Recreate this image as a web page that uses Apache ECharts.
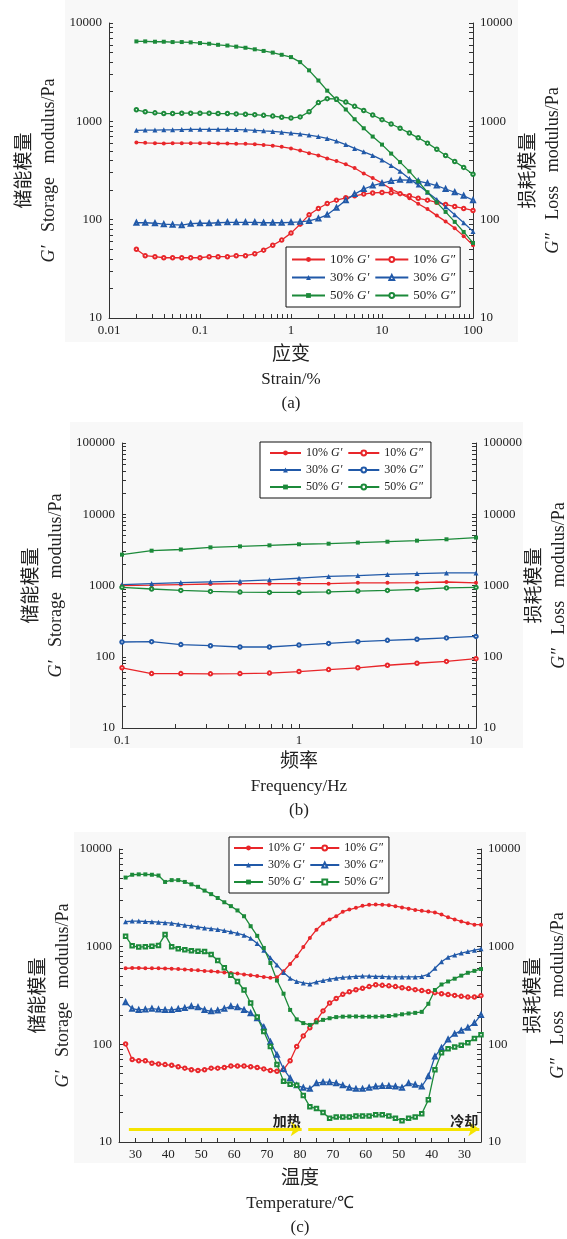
<!DOCTYPE html>
<html>
<head>
<meta charset="utf-8">
<title>储能模量 / 损耗模量</title>
<script src="https://cdn.jsdelivr.net/npm/echarts@6.0.0/dist/echarts.min.js"></script>
<style>
    html, body { margin: 0; padding: 0; background: #fff; }
    #main { width: 567px; height: 1239px; }
</style>
</head>
<body>
<div id="main"></div>
<script type="text/javascript">
    // ---- (a) strain sweep ----
    var strain = [0.02, 0.025, 0.032, 0.04, 0.05, 0.063, 0.079,
        0.1, 0.126, 0.158, 0.2, 0.25, 0.316, 0.4, 0.5, 0.63, 0.79,
        1, 1.26, 1.58, 2, 2.5, 3.16, 4, 5, 6.3, 7.9,
        10, 12.6, 15.8, 20, 25, 31.6, 40, 50, 63, 79, 100];
    var a10G1 = [610, 605, 600, 595, 600, 600, 600, 600, 600, 595, 595, 590, 590, 585, 575, 565, 550,
        530, 505, 475, 450, 420, 395, 365, 335, 295, 265, 235, 205, 185, 165, 145, 128, 110, 96, 82, 68, 55];
    var a10G2 = [50, 43, 42, 41, 41, 41, 41, 41, 42, 42, 42, 43, 43, 45, 49, 55, 62,
        73, 90, 112, 130, 146, 158, 167, 175, 182, 187, 189, 188, 184, 175, 165, 158, 150, 143, 136, 130, 124];
    var a30G1 = [810, 815, 815, 820, 820, 825, 830, 830, 830, 830, 830, 825, 820, 810, 800, 790, 775,
        760, 745, 725, 700, 670, 630, 580, 530, 490, 450, 405, 355, 310, 260, 225, 190, 160, 135, 112, 93, 76];
    var a30G2 = [93, 93, 92, 90, 89, 88, 91, 92, 92, 93, 94, 94, 94, 94, 93, 93, 93,
        94, 95, 97, 103, 112, 132, 158, 182, 205, 222, 235, 248, 254, 252, 246, 235, 222, 205, 190, 175, 158];
    var a50G1 = [6500, 6500, 6450, 6450, 6400, 6400, 6350, 6250, 6150, 6000, 5900, 5750, 5600, 5400, 5200, 5000, 4750,
        4500, 4000, 3300, 2600, 2050, 1650, 1320, 1050, 850, 700, 580, 470, 385, 310, 245, 190, 150, 120, 95, 75, 58];
    var a50G2 = [1310, 1250, 1220, 1200, 1200, 1210, 1210, 1210, 1210, 1200, 1200, 1190, 1180, 1170, 1150, 1130, 1100,
        1080, 1110, 1250, 1550, 1700, 1690, 1570, 1420, 1290, 1160, 1040, 940, 850, 760, 680, 600, 520, 450, 390, 340, 290];
    var aXLabels = [0.01, 0.1, 1, 10, 100];
    var aYLabels = [10, 100, 1000, 10000];

    // ---- (b) frequency sweep ----
    var freq = [0.1, 0.147, 0.215, 0.316, 0.464, 0.681, 1, 1.47, 2.15, 3.16, 4.64, 6.81, 10];
    var b10G1 = [1000, 1010, 1030, 1050, 1060, 1060, 1060, 1060, 1090, 1090, 1100, 1120, 1090];
    var b10G2 = [70, 58, 58, 57.5, 58, 59, 62, 66, 70, 76, 81, 86, 94];
    var b30G1 = [1030, 1065, 1100, 1125, 1150, 1200, 1265, 1340, 1380, 1430, 1470, 1500, 1500];
    var b30G2 = [161, 163, 148, 143, 137, 137, 146, 154, 163, 170, 176, 184, 193];
    var b50G1 = [2710, 3080, 3200, 3430, 3540, 3660, 3790, 3860, 4000, 4120, 4260, 4450, 4700];
    var b50G2 = [942, 893, 854, 826, 808, 800, 800, 815, 835, 854, 885, 925, 940];
    var bXLabels = [0.1, 1, 10];
    var bYLabels = [10, 100, 1000, 10000, 100000];

    // ---- (c) temperature run: position along heating (25->80) then cooling (80->25) ----
    var cPos = [27, 29, 31, 33, 35, 37, 39, 41, 43, 45, 47, 49, 51, 53, 55, 57, 59, 61, 63, 65, 67, 69, 71, 73,
        75, 77, 79, 81, 83, 85, 87, 89, 91, 93, 95, 97, 99, 101, 103, 105, 107, 109, 111, 113, 115, 117, 119,
        121, 123, 125, 127, 129, 131, 133, 135];
    var c10G1 = [600, 605, 605, 600, 600, 600, 598, 595, 590, 585, 578, 572, 565, 560, 552, 545, 538, 530, 520, 510, 500, 490, 480, 485,
        560, 665, 800, 990, 1230, 1490, 1730, 1900, 2050, 2280, 2400, 2500, 2620, 2680, 2700, 2690, 2660, 2600, 2520, 2450, 2380,
        2330, 2290, 2240, 2130, 2000, 1900, 1810, 1740, 1680, 1680];
    var c10G2 = [101, 70, 68, 68, 64, 63, 62, 61, 59, 57, 55, 54, 55, 57, 57, 58, 60, 60, 60, 59, 58, 56, 54, 53,
        55, 68, 95, 122, 148, 175, 220, 265, 295, 325, 345, 362, 375, 390, 408, 402, 397, 390, 380, 372, 363,
        355, 348, 338, 330, 323, 317, 310, 305, 305, 315];
    var c30G1 = [1800, 1830, 1830, 1810, 1800, 1780, 1760, 1740, 1700, 1660, 1630, 1590, 1555, 1530, 1500, 1460, 1420, 1370, 1310, 1220, 1080, 920, 770, 650,
        545, 475, 440, 425, 415, 435, 450, 465, 475, 485, 490, 495, 500, 500, 495, 495, 490, 490, 490, 490, 490,
        495, 520, 600, 700, 780, 820, 860, 890, 920, 950];
    var c30G2 = [270, 232, 225, 228, 232, 228, 225, 225, 230, 235, 245, 240, 225, 218, 222, 232, 245, 240, 225, 208, 185, 150, 106, 78,
        56, 45, 38, 36, 35, 40, 41, 41, 40, 38, 36, 35, 35, 36, 37, 37.5, 37.5, 37, 36, 40, 38.5,
        37, 47, 75, 92, 112, 128, 138, 148, 165, 200];
    var c50G1 = [5100, 5450, 5500, 5500, 5450, 5350, 4600, 4800, 4800, 4600, 4350, 4100, 3750, 3450, 3150, 2850, 2600, 2350, 2050, 1620, 1290, 970, 680, 450,
        330, 225, 180, 165, 158, 168, 178, 185, 190, 192, 193, 193, 192, 192, 192, 193, 195, 198, 203, 207, 210,
        215, 260, 360, 410, 440, 470, 505, 540, 565, 590];
    var c50G2 = [1280, 1020, 990, 1000, 1010, 1030, 1330, 1000, 950, 930, 910, 900, 890, 830, 720, 610, 510, 440, 360, 265, 190, 135, 95, 62,
        42, 39, 38, 30, 23, 22, 20, 17.5, 18, 18, 18, 18.5, 18.5, 18.5, 19, 19, 18.5, 17.5, 16.5, 17.5, 18,
        19.5, 27, 55, 82, 90, 94, 98, 104, 115, 125];
    var cTickPos = [30, 40, 50, 60, 70, 80, 90, 100, 110, 120, 130];
    var cTickText = ['30', '40', '50', '60', '70', '80', '70', '60', '50', '40', '30'];
    var cMinorPos = [30, 35, 40, 45, 50, 55, 60, 65, 70, 75, 80, 85, 90, 95, 100, 105, 110, 115, 120, 125, 130];
    var cYLabels = [10, 100, 1000, 10000];
    // arrows: [from, to, text] along the run, drawn at one modulus level
    var cArrows = [[28, 80.5, '加热'], [82.5, 134.5, '冷却']];
    var cArrowLevel = 13.6;

    var FONT_EN = 'Liberation Serif';
    var FONT_CN = 'Noto Sans CJK SC';
    var RED = '#e8262a', BLUE = '#2159a8', GREEN = '#1c8a3a';

    function logTicks(lo, hi) {
        var t = [];
        for (var d = lo; d < hi * 0.999; d *= 10) {
            for (var k = 1; k < 10; k++) t.push(+(d * k).toPrecision(3));
        }
        t.push(hi);
        return t;
    }
    function fmtNum(v) {
        return String(+Number(v).toPrecision(6));
    }

    var titleRich = {
        cn: {fontFamily: FONT_CN, fontSize: 19, lineHeight: 26, color: '#222'},
        i: {fontFamily: FONT_EN, fontStyle: 'italic', fontSize: 18, lineHeight: 26, color: '#222'},
        en: {fontFamily: FONT_EN, fontSize: 18, lineHeight: 26, color: '#222'}
    };
    var xRich = {
        cn: {fontFamily: FONT_CN, fontSize: 19, lineHeight: 26, color: '#222'},
        en: {fontFamily: FONT_EN, fontSize: 17, lineHeight: 28, color: '#222'},
        cap: {fontFamily: FONT_EN, fontSize: 17, lineHeight: 19, color: '#222'}
    };
    var LEFT_NAME = '{cn|储能模量}\n{i|G′}{en|   Storage   modulus/Pa}';
    var RIGHT_NAME = '{cn|损耗模量}\n{i|G″}{en|   Loss   modulus/Pa}';

    function yLog(grid, lo, hi, labels, side, name, gap) {
        return {
            type: 'log', logBase: 10, gridIndex: grid, min: lo, max: hi, position: side,
            axisLine: {show: true, lineStyle: {color: '#333', width: 1}},
            axisTick: {show: true, inside: true, length: 4, customValues: logTicks(lo, hi), lineStyle: {color: '#333'}},
            minorTick: {show: false},
            axisLabel: {show: true, customValues: labels, formatter: fmtNum, margin: 7,
                color: '#222', fontFamily: FONT_EN, fontSize: 13},
            splitLine: {show: false},
            name: name, nameLocation: 'middle', nameRotate: 90, nameGap: gap, nameMoveOverlap: false,
            nameTextStyle: {rich: titleRich}
        };
    }
    function xLog(grid, lo, hi, labels, name, gap) {
        return {
            type: 'log', logBase: 10, gridIndex: grid, min: lo, max: hi,
            axisLine: {show: true, lineStyle: {color: '#333', width: 1}},
            axisTick: {show: true, inside: true, length: 4, customValues: logTicks(lo, hi), lineStyle: {color: '#333'}},
            minorTick: {show: false},
            axisLabel: {show: true, customValues: labels, formatter: fmtNum, margin: 6,
                color: '#222', fontFamily: FONT_EN, fontSize: 13},
            splitLine: {show: false},
            name: name, nameLocation: 'middle', nameGap: gap, nameMoveOverlap: false,
            nameTextStyle: {rich: xRich}
        };
    }

    function mk(name, xi, yi, xs, ys, color, symbol, size) {
        return {
            name: name, type: 'line', xAxisIndex: xi, yAxisIndex: yi,
            data: xs.map(function (x, i) { return [x, ys[i]]; }),
            symbol: symbol, symbolSize: size, showSymbol: true,
            lineStyle: {color: color, width: 1.3},
            itemStyle: {color: color, borderWidth: 1},
            emphasis: {disabled: true},
            z: 3
        };
    }

    function legendFmt(name) {
        var t = name.split('|')[1].split(' ');
        return '{n|' + t[0] + ' }{g|' + t[1] + '}';
    }
    function legendBox(names, left, top, pad, iw, fs) {
        return {
            data: names, left: left, top: top, width: 200, orient: 'horizontal',
            itemWidth: iw, itemHeight: 6, itemGap: 5, padding: pad,
            backgroundColor: '#fff', borderColor: '#111', borderWidth: 1, borderRadius: 0,
            selectedMode: false, formatter: legendFmt,
            textStyle: {
                color: '#222', fontFamily: FONT_EN, fontSize: fs, lineHeight: 10,
                rich: {
                    n: {fontFamily: FONT_EN, fontSize: fs, lineHeight: 10, color: '#222'},
                    g: {fontFamily: FONT_EN, fontStyle: 'italic', fontSize: fs, lineHeight: 10, color: '#222'}
                }
            }
        };
    }

    var arrowSeries = {
        name: 'arrows', type: 'line', xAxisIndex: 2, yAxisIndex: 4, silent: true,
        data: [[cArrows[0][0], cArrowLevel]], symbol: 'none', lineStyle: {width: 0},
        markLine: {
            silent: true, symbol: ['none', 'arrow'], symbolSize: 11, animation: false,
            lineStyle: {color: '#f5e400', width: 3, type: 'solid'},
            itemStyle: {color: '#f5e400'},
            label: {show: true, position: 'insideEndTop', formatter: '{b}', distance: 1,
                color: '#222', fontFamily: FONT_CN, fontSize: 14, fontWeight: 'bold'},
            data: cArrows.map(function (a) {
                return [{name: a[2], coord: [a[0], cArrowLevel]}, {coord: [a[1], cArrowLevel]}];
            })
        }
    };

    var series = [
        mk('a|10% G′', 0, 0, strain, a10G1, RED, 'circle', 4),
        mk('a|10% G″', 0, 0, strain, a10G2, RED, 'emptyCircle', 3.5),
        mk('a|30% G′', 0, 0, strain, a30G1, BLUE, 'triangle', 5),
        mk('a|30% G″', 0, 0, strain, a30G2, BLUE, 'emptyTriangle', 4),
        mk('a|50% G′', 0, 0, strain, a50G1, GREEN, 'rect', 4),
        mk('a|50% G″', 0, 0, strain, a50G2, GREEN, 'emptyCircle', 3.5),

        mk('b|10% G′', 1, 2, freq, b10G1, RED, 'circle', 4),
        mk('b|10% G″', 1, 2, freq, b10G2, RED, 'emptyCircle', 3.5),
        mk('b|30% G′', 1, 2, freq, b30G1, BLUE, 'triangle', 5),
        mk('b|30% G″', 1, 2, freq, b30G2, BLUE, 'emptyCircle', 3.5),
        mk('b|50% G′', 1, 2, freq, b50G1, GREEN, 'rect', 4),
        mk('b|50% G″', 1, 2, freq, b50G2, GREEN, 'emptyCircle', 3.5),

        mk('c|10% G′', 2, 4, cPos, c10G1, RED, 'circle', 4),
        mk('c|10% G″', 2, 4, cPos, c10G2, RED, 'emptyCircle', 3.5),
        mk('c|30% G′', 2, 4, cPos, c30G1, BLUE, 'triangle', 5),
        mk('c|30% G″', 2, 4, cPos, c30G2, BLUE, 'emptyTriangle', 4),
        mk('c|50% G′', 2, 4, cPos, c50G1, GREEN, 'rect', 4),
        mk('c|50% G″', 2, 4, cPos, c50G2, GREEN, 'emptyRect', 3.5),
        arrowSeries
    ];

    var names = function (p) {
        return ['10% G′', '10% G″', '30% G′', '30% G″', '50% G′', '50% G″'].map(function (s) { return p + '|' + s; });
    };

    var chart = echarts.init(document.getElementById('main'), null, {renderer: 'canvas'});
    var option = {
        backgroundColor: '#fff',
        animation: false,
        graphic: [
            {type: 'rect', z: -10, silent: true, shape: {x: 65, y: 0, width: 453, height: 342}, style: {fill: '#f8f8f8'}},
            {type: 'rect', z: -10, silent: true, shape: {x: 70, y: 422, width: 453, height: 326}, style: {fill: '#f8f8f8'}},
            {type: 'rect', z: -10, silent: true, shape: {x: 74, y: 832, width: 452, height: 331}, style: {fill: '#f8f8f8'}}
        ],
        grid: [
            {left: 109, top: 23, width: 364, height: 295, outerBoundsMode: 'none'},
            {left: 122, top: 443, width: 354, height: 285, outerBoundsMode: 'none'},
            {left: 119, top: 849, width: 362, height: 293, outerBoundsMode: 'none'}
        ],
        xAxis: [
            xLog(0, 0.01, 100, aXLabels, '{cn|应变}\n{en|Strain/%}\n{cap|(a)}', 22),
            xLog(1, 0.1, 10, bXLabels, '{cn|频率}\n{en|Frequency/Hz}\n{cap|(b)}', 19),
            {
                type: 'value', gridIndex: 2, min: 25, max: 135,
                axisLine: {show: true, lineStyle: {color: '#333', width: 1}},
                axisTick: {show: true, inside: true, length: 4, customValues: cMinorPos, lineStyle: {color: '#333'}},
                axisLabel: {show: true, customValues: cTickPos, margin: 6, color: '#222', fontFamily: FONT_EN, fontSize: 13,
                    formatter: function (v) { return cTickText[cTickPos.indexOf(v)]; }},
                splitLine: {show: false},
                name: '{cn|温度}\n{en|Temperature/℃}\n{cap|(c)}', nameLocation: 'middle', nameGap: 22, nameMoveOverlap: false,
                nameTextStyle: {rich: xRich}
            }
        ],
        yAxis: [
            yLog(0, 10, 10000, aYLabels, 'left', LEFT_NAME, 47),
            yLog(0, 10, 10000, aYLabels, 'right', RIGHT_NAME, 41),
            yLog(1, 10, 100000, bYLabels, 'left', LEFT_NAME, 53),
            yLog(1, 10, 100000, bYLabels, 'right', RIGHT_NAME, 44),
            yLog(2, 10, 10000, cYLabels, 'left', LEFT_NAME, 43),
            yLog(2, 10, 10000, cYLabels, 'right', RIGHT_NAME, 38)
        ],
        legend: [
            legendBox(names('a'), 286, 247, [6, 5, 5, 5], 33, 13),
            legendBox(names('b'), 260, 442, [5, 8, 5, 9], 31, 12),
            legendBox(names('c'), 229, 837, [5, 6, 5, 4], 29, 12)
        ],
        series: series
    };
    chart.setOption(option);
</script>
</body>
</html>
